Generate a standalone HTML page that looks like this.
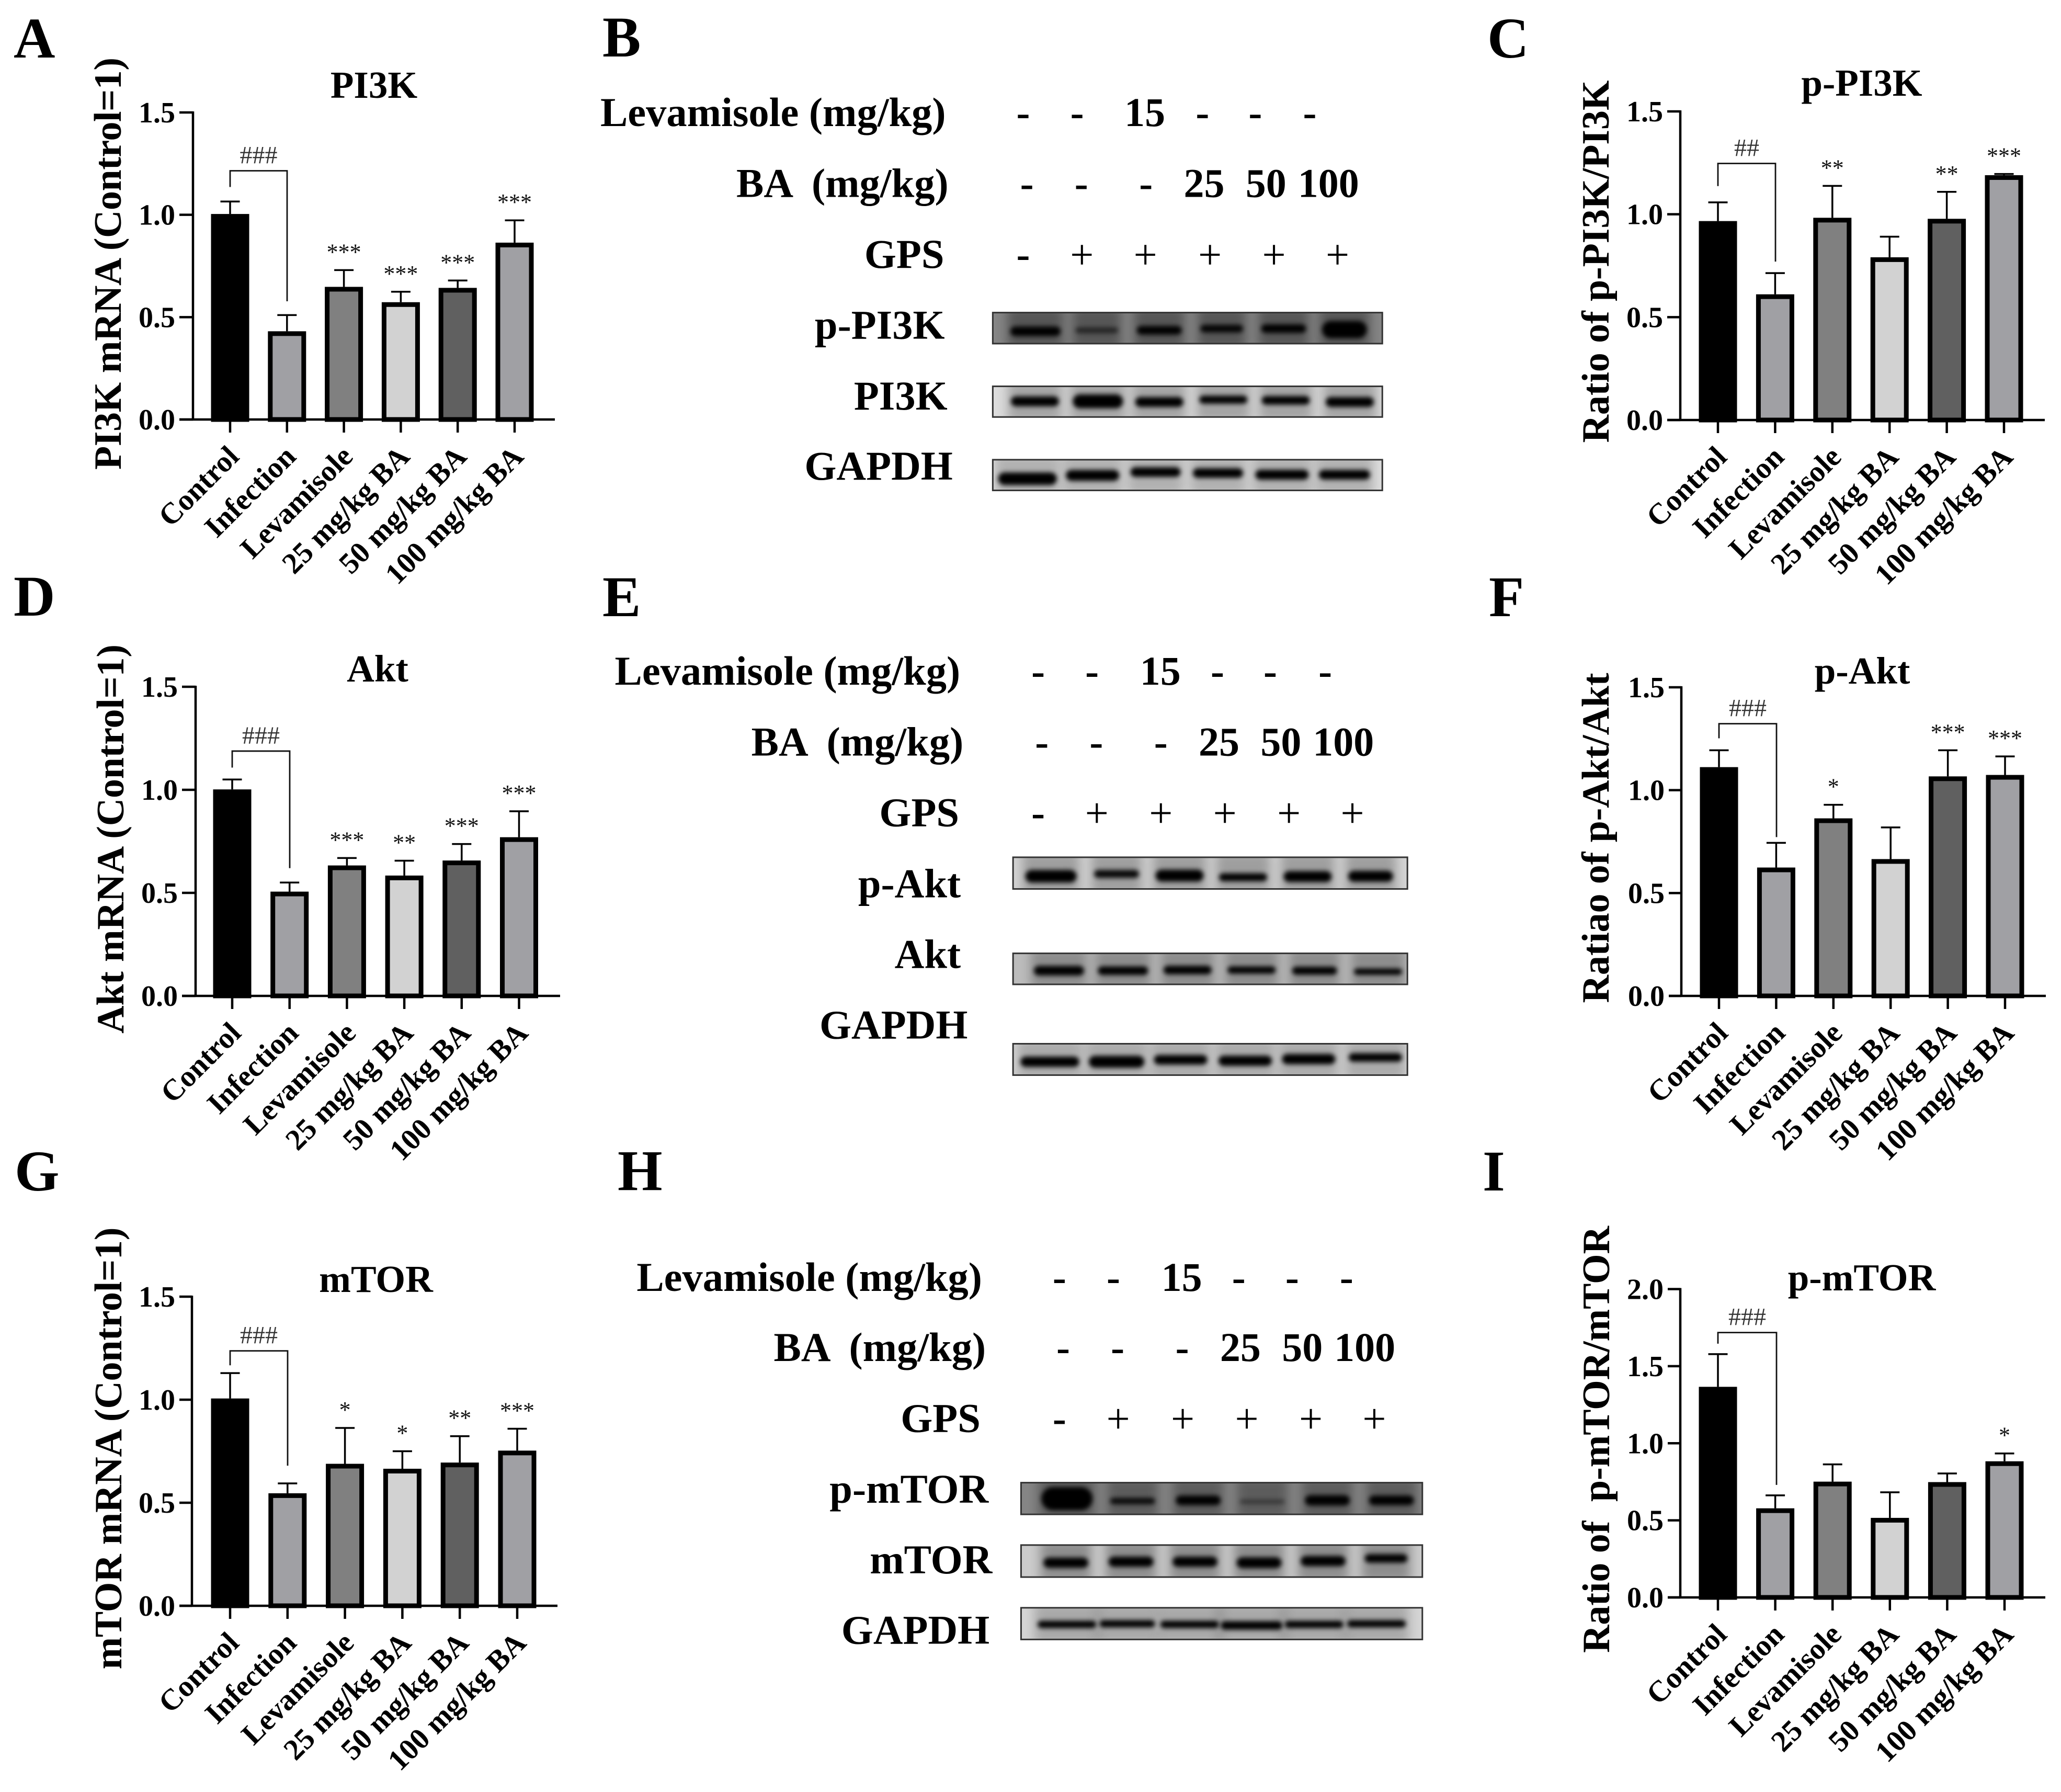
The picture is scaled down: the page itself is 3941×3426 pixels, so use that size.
<!DOCTYPE html>
<html lang="en">
<head>
<meta charset="utf-8">
<title>BA effects on the PI3K/Akt/mTOR pathway</title>
<style>
html,body{margin:0;padding:0;background:#fff;}
svg{display:block;}
text{font-family:"Liberation Serif",serif;white-space:pre;}
</style>
</head>
<body>
<svg id="figure" xmlns="http://www.w3.org/2000/svg" width="3941" height="3426" viewBox="0 0 3941 3426">
<defs>
<filter id="blur-band" x="-30%" y="-120%" width="160%" height="340%"><feGaussianBlur stdDeviation="4.5"></feGaussianBlur></filter>
<filter id="blur-halo" x="-40%" y="-100%" width="180%" height="300%"><feGaussianBlur stdDeviation="10"></feGaussianBlur></filter>
</defs>
</svg>
<script>
// ---------- chart data ----------
const categories = ["Control","Infection","Levamisole","25 mg/kg BA","50 mg/kg BA","100 mg/kg BA"];
const barFills = ["#000000","#a0a0a4","#808080","#d2d2d2","#606060","#a0a0a4"];

const pi3kMeans  = [1.004,0.431,0.648,0.573,0.643,0.864];
const pi3kErrTop = [1.065,0.51,0.73,0.624,0.679,0.973];
const pi3kStars  = ["","","***","***","***","***"];

const pPi3kMeans  = [0.967,0.611,0.983,0.791,0.978,1.19];
const pPi3kErrTop = [1.058,0.714,1.138,0.891,1.109,1.196];
const pPi3kStars  = ["","","**","","**","***"];

const aktMeans  = [1.002,0.506,0.633,0.584,0.657,0.77];
const aktErrTop = [1.05,0.55,0.669,0.656,0.737,0.896];
const aktStars  = ["","","***","**","***","***"];

const pAktMeans  = [1.112,0.624,0.863,0.665,1.067,1.074];
const pAktErrTop = [1.194,0.744,0.929,0.819,1.194,1.164];
const pAktStars  = ["","","*","","***","***"];

const mtorMeans  = [1.006,0.546,0.689,0.665,0.695,0.753];
const mtorErrTop = [1.129,0.594,0.863,0.75,0.823,0.859];
const mtorStars  = ["","","*","*","**","***"];

const pMtorMeans  = [1.366,0.578,0.751,0.516,0.748,0.883];
const pMtorErrTop = [1.578,0.662,0.863,0.682,0.804,0.934];
const pMtorStars  = ["","","","","","*"];

const ticks15 = ["0.0","0.5","1.0","1.5"];
const ticks20 = ["0.0","0.5","1.0","1.5","2.0"];

const NS = "http://www.w3.org/2000/svg";
const root = document.getElementById("figure");

function mk(tag, attrs, parent, txt){
  const el = document.createElementNS(NS, tag);
  for (const k in attrs) el.setAttribute(k, attrs[k]);
  if (txt !== undefined) el.textContent = txt;
  (parent || root).appendChild(el);
  return el;
}

// ---------- panel letters ----------
const panelLetters = [["A",26,110],["B",1152,108],["C",2844,110],["D",26,1177],["E",1152,1178],["F",2847,1178],["G",28,2276],["H",1181,2275],["I",2835,2276]];
panelLetters.forEach(function(p){
  const el = mk("text",{x:p[1],y:p[2],"font-size":110,"font-weight":"bold",fill:"#000"},root,p[0]);
  
  
});

// ---------- bar charts ----------
const charts = [
 {id:"pi3k",title:"PI3K",tx:715,ty:187,ylabel:"PI3K mRNA (Control=1)",ylx:231,yly:504,yll:788,
  axX:369,y0:802,yTop:215,xL:343,xR:1061,c0:440,dx:108.8,ticks:ticks15,means:pi3kMeans,err:pi3kErrTop,stars:pi3kStars,
  hash:"###",brTop:1.215,brL:1.136,brR:0.5775,brX2:549},
 {id:"p-pi3k",title:"p-PI3K",tx:3560,ty:183,ylabel:"Ratio of p-PI3K/PI3K",ylx:3076,yly:500,yll:693,
  axX:3213,y0:803,yTop:213,xL:3188,xR:3910,c0:3285,dx:109.4,ticks:ticks15,means:pPi3kMeans,err:pPi3kErrTop,stars:pPi3kStars,
  hash:"##",brTop:1.247,brL:1.137,brR:0.77,brX2:3395},
 {id:"akt",title:"Akt",tx:722,ty:1303,ylabel:"Akt mRNA (Control=1)",ylx:236,yly:1604,yll:744,
  axX:374,y0:1904,yTop:1313,xL:348,xR:1071,c0:444,dx:109.7,ticks:ticks15,means:aktMeans,err:aktErrTop,stars:aktStars,
  hash:"###",brTop:1.188,brL:1.108,brR:0.62,brX2:554},
 {id:"p-akt",title:"p-Akt",tx:3561,ty:1307,ylabel:"Ratiao of p-Akt/Akt",ylx:3076,yly:1602,yll:631,
  axX:3215,y0:1904,yTop:1314,xL:3191,xR:3912,c0:3287,dx:109.4,ticks:ticks15,means:pAktMeans,err:pAktErrTop,stars:pAktStars,
  hash:"###",brTop:1.323,brL:1.252,brR:0.772,brX2:3397},
 {id:"mtor",title:"mTOR",tx:719,ty:2470,ylabel:"mTOR mRNA (Control=1)",ylx:232,yly:2769,yll:845,
  axX:367,y0:3070,yTop:2479,xL:343,xR:1066,c0:440,dx:109.8,ticks:ticks15,means:mtorMeans,err:mtorErrTop,stars:mtorStars,
  hash:"###",brTop:1.237,brL:1.167,brR:0.68,brX2:550},
 {id:"p-mtor",title:"p-mTOR",tx:3560,ty:2467,ylabel:"Ratio of  p-mTOR/mTOR",ylx:3077,yly:2752,yll:816,
  axX:3213,y0:3054,yTop:2464.5,xL:3189,xR:3911,c0:3285,dx:109.6,ticks:ticks20,means:pMtorMeans,err:pMtorErrTop,stars:pMtorStars,
  hash:"###",brTop:1.718,brL:1.646,brR:0.73,brX2:3397}
];

charts.forEach(function(c){
  const g = mk("g",{},root);
  
  
  const yMax = parseFloat(c.ticks[c.ticks.length-1]);
  const yS = function(v){ return c.y0 - v/yMax*(c.y0-c.yTop); };
  const xS = function(i){ return c.c0 + i*c.dx; };
  const barW = 73, sw = 9;

  const title = mk("text",{x:c.tx,y:c.ty,"text-anchor":"middle","font-size":73,"font-weight":"bold"},g,c.title);
  
  

  const yl = mk("text",{transform:"translate("+c.ylx+","+c.yly+") rotate(-90)","text-anchor":"middle","font-size":74,"font-weight":"bold",textLength:c.yll,lengthAdjust:"spacing"},g,c.ylabel);
  
  

  // bars and error bars
  c.means.forEach(function(m,i){
    const x = xS(i), top = yS(m), et = yS(c.err[i]);
    const en = mk("line",{x1:x,x2:x,y1:top,y2:et,stroke:"#000","stroke-width":3.5},g);
    
    
    const cap = mk("line",{x1:x-18.5,x2:x+18.5,y1:et,y2:et,stroke:"#000","stroke-width":3.5},g);
    
    
    const bar = mk("rect",{x:x-barW/2+sw/2,y:top+sw/2,width:barW-sw,height:Math.max(0,c.y0-top-sw/2),fill:barFills[i],stroke:"#000","stroke-width":sw},g);
    
    
    if (c.stars[i]) {
      const st = mk("text",{x:x,y:et-40+20,"text-anchor":"middle","font-size":44,fill:"#111"},g,c.stars[i]);
      
      
    }
  });

  // axes
  const ya = mk("line",{x1:c.axX,x2:c.axX,y1:c.yTop-2,y2:c.y0+2,stroke:"#000","stroke-width":4.5},g);
  
  
  const xa = mk("line",{x1:c.xL,x2:c.xR,y1:c.y0,y2:c.y0,stroke:"#000","stroke-width":4.5},g);
  
  

  c.ticks.forEach(function(t){
    const y = yS(parseFloat(t));
    const tk = mk("line",{x1:c.xL,x2:c.axX,y1:y,y2:y,stroke:"#000","stroke-width":4.5},g);
    
    
    const lb = mk("text",{x:c.xL-8,y:y+19,"text-anchor":"end","font-size":56,"font-weight":"bold"},g,t);
    
    
  });

  categories.forEach(function(cat,i){
    const x = xS(i);
    const tk = mk("line",{x1:x,x2:x,y1:c.y0,y2:c.y0+25,stroke:"#000","stroke-width":4.5},g);
    
    
    const lb = mk("text",{transform:"translate("+(x+20)+","+(c.y0+74)+") rotate(-45)","text-anchor":"end","font-size":57,"font-weight":"bold"},g,cat);
    
    
  });

  // bracket
  const x1 = xS(0), x2 = c.brX2;
  const br = mk("path",{d:"M"+x1+" "+yS(c.brL)+"V"+yS(c.brTop)+"H"+x2+"V"+yS(c.brR),fill:"none",stroke:"#111","stroke-width":2.8},g);
  
  
  const h = mk("text",{x:(x1+x2)/2,y:yS(c.brTop)-14,"text-anchor":"middle","font-size":48,fill:"#333"},g,c.hash);
  
  
});

// ---------- western blot panels (coordinates in panel-relative sampled units) ----------
const sx = 1.0204, sy = 0.6378;
const blotPanels = [
 {id:"b",ox:1130,oy:0,
  rows:[
   {label:"Levamisole (mg/kg)",end:665,base:378,xs:[810,911,1038,1146,1245,1347],vals:["-","-","15","-","-","-"]},
   {label:"BA  (mg/kg)",end:670,base:590,xs:[817,919,1040,1149,1265,1382],vals:["-","-","-","25","50","100"]},
   {label:"GPS",end:662,base:803,xs:[810,920,1039,1160,1280,1399],vals:["-","+","+","+","+","+"]}
  ],
  blots:[
   {label:"p-PI3K",end:663,base:1015,x1:753,x2:1483,y1:937,y2:1030,bg:"#858585",halo:0.35,
    cx:[833,948,1065,1182,1298,1412],cy:[993,990,990,985,985,988],hw:[47,40,42,40,42,42],th:[29,17,26,23,26,52],op:[1,0.6,1,0.95,1,1]},
   {label:"PI3K",end:668,base:1228,x1:753,x2:1483,y1:1158,y2:1250,bg:"#dcdcdc",halo:0.25,
    cx:[832,950,1065,1185,1302,1422],cy:[1203,1203,1205,1198,1200,1205],hw:[45,47,45,45,45,45],th:[30,42,30,24,26,30],op:[1,1,1,1,1,1]},
   {label:"GAPDH",end:678,base:1438,x1:753,x2:1483,y1:1378,y2:1470,bg:"#dedede",halo:0.2,
    cx:[818,940,1058,1175,1295,1412],cy:[1435,1425,1415,1418,1423,1423],hw:[55,50,47,47,50,48],th:[38,33,29,29,30,29],op:[1,1,1,1,1,1]}
  ]},
 {id:"e",ox:1130,oy:1100,
  rows:[
   {label:"Levamisole (mg/kg)",end:692,base:328,xs:[838,939,1067,1174,1273,1376],vals:["-","-","15","-","-","-"]},
   {label:"BA  (mg/kg)",end:698,base:540,xs:[845,947,1068,1177,1293,1410],vals:["-","-","-","25","50","100"]},
   {label:"GPS",end:690,base:752,xs:[838,948,1068,1188,1308,1427],vals:["-","+","+","+","+","+"]}
  ],
  blots:[
   {label:"p-Akt",end:693,base:965,x1:791,x2:1530,y1:845,y2:940,bg:"#d4d4d4",halo:0.25,
    cx:[862,985,1103,1222,1343,1461],cy:[902,895,900,905,903,902],hw:[48,42,45,45,45,42],th:[38,24,36,24,33,33],op:[1,0.95,1,1,1,1]},
   {label:"Akt",end:693,base:1177,x1:791,x2:1530,y1:1133,y2:1226,bg:"#bcbcbc",halo:0.25,
    cx:[877,997,1118,1238,1356,1475],cy:[1185,1185,1183,1183,1185,1188],hw:[47,47,45,45,42,45],th:[29,26,26,22,24,19],op:[1,1,1,1,1,1]},
   {label:"GAPDH",end:706,base:1388,x1:791,x2:1530,y1:1404,y2:1498,bg:"#d6d6d6",halo:0.2,
    cx:[860,985,1105,1226,1345,1470],cy:[1458,1458,1452,1455,1450,1445],hw:[55,52,50,50,50,50],th:[31,36,29,31,31,26],op:[1,1,1,1,1,1]}
  ]},
 {id:"h",ox:1130,oy:2200,
  rows:[
   {label:"Levamisole (mg/kg)",end:733,base:420,xs:[878,979,1107,1214,1314,1416],vals:["-","-","15","-","-","-"]},
   {label:"BA  (mg/kg)",end:740,base:630,xs:[885,987,1108,1217,1333,1450],vals:["-","-","-","25","50","100"]},
   {label:"GPS",end:730,base:843,xs:[878,988,1109,1229,1349,1468],vals:["-","+","+","+","+","+"]}
  ],
  blots:[
   {label:"p-mTOR",end:745,base:1055,x1:806,x2:1558,y1:995,y2:1090,bg:"#858585",halo:0.3,
    cx:[892,1015,1138,1258,1380,1500],cy:[1043,1050,1048,1052,1048,1048],hw:[48,42,42,42,42,42],th:[70,19,29,12,31,29],op:[1,0.9,1,0.45,1,1]},
   {label:"mTOR",end:752,base:1267,x1:806,x2:1558,y1:1182,y2:1278,bg:"#cbcbcb",halo:0.3,
    cx:[890,1012,1132,1252,1372,1490],cy:[1235,1232,1232,1235,1230,1222],hw:[42,42,42,42,42,40],th:[31,31,31,33,31,26],op:[1,1,1,1,1,1]},
   {label:"GAPDH",end:747,base:1478,x1:806,x2:1558,y1:1370,y2:1465,bg:"#d4d4d4",halo:0.2,
    cx:[892,1005,1122,1238,1355,1472],cy:[1420,1418,1420,1423,1420,1418],hw:[55,52,55,58,55,55],th:[22,22,22,26,22,22],op:[1,1,1,1,1,1]}
  ]}
];

blotPanels.forEach(function(p){
  const X = function(v){ return p.ox + v*sx; };
  const Y = function(v){ return p.oy + v*sy; };
  const g = mk("g",{},root);
  
  

  p.rows.forEach(function(r){
    const lb = mk("text",{x:X(r.end),y:Y(r.base),"text-anchor":"end","font-size":78.5,"font-weight":"bold"},g,r.label);
    
    
    r.vals.forEach(function(v,i){
      const t = mk("text",{x:X(r.xs[i]),y:Y(r.base)+(v==="+"?2:0),"text-anchor":"middle","font-size":v==="+"?80:78,"font-weight":v==="+"?"normal":"bold"},g,v);
      
      
    });
  });

  p.blots.forEach(function(b){
    const lb = mk("text",{x:X(b.end),y:Y(b.base),"text-anchor":"end","font-size":78.5,"font-weight":"bold"},g,b.label);
    
    
    const clipId = "clip-" + p.id + "-" + b.label;
    const cp = mk("clipPath",{id:clipId},g);
    mk("rect",{x:X(b.x1),y:Y(b.y1),width:(b.x2-b.x1)*sx,height:(b.y2-b.y1)*sy},cp);
    const inner = mk("g",{"clip-path":"url(#"+clipId+")"},g);
    
    
    mk("rect",{x:X(b.x1),y:Y(b.y1),width:(b.x2-b.x1)*sx,height:(b.y2-b.y1)*sy,fill:b.bg},inner);
    b.cx.forEach(function(cx,i){
      const bx = X(cx), by = Y(b.cy[i]), hw = b.hw[i]*sx, th = b.th[i]*sy;
      mk("rect",{x:bx-hw-6,y:Y(b.y1)-10,width:2*hw+12,height:(b.y2-b.y1)*sy+20,fill:"#000",opacity:b.halo,filter:"url(#blur-halo)"},inner);
      const band = mk("rect",{x:bx-hw,y:by-th/2,width:2*hw,height:th,rx:th/2,ry:th/2,fill:"#050505",opacity:b.op[i],filter:"url(#blur-band)"},inner);
      
      
    });
    const fr = mk("rect",{x:X(b.x1),y:Y(b.y1),width:(b.x2-b.x1)*sx,height:(b.y2-b.y1)*sy,fill:"none",stroke:"#333","stroke-width":3},g);
    
    
  });
});
</script>
</body>
</html>
